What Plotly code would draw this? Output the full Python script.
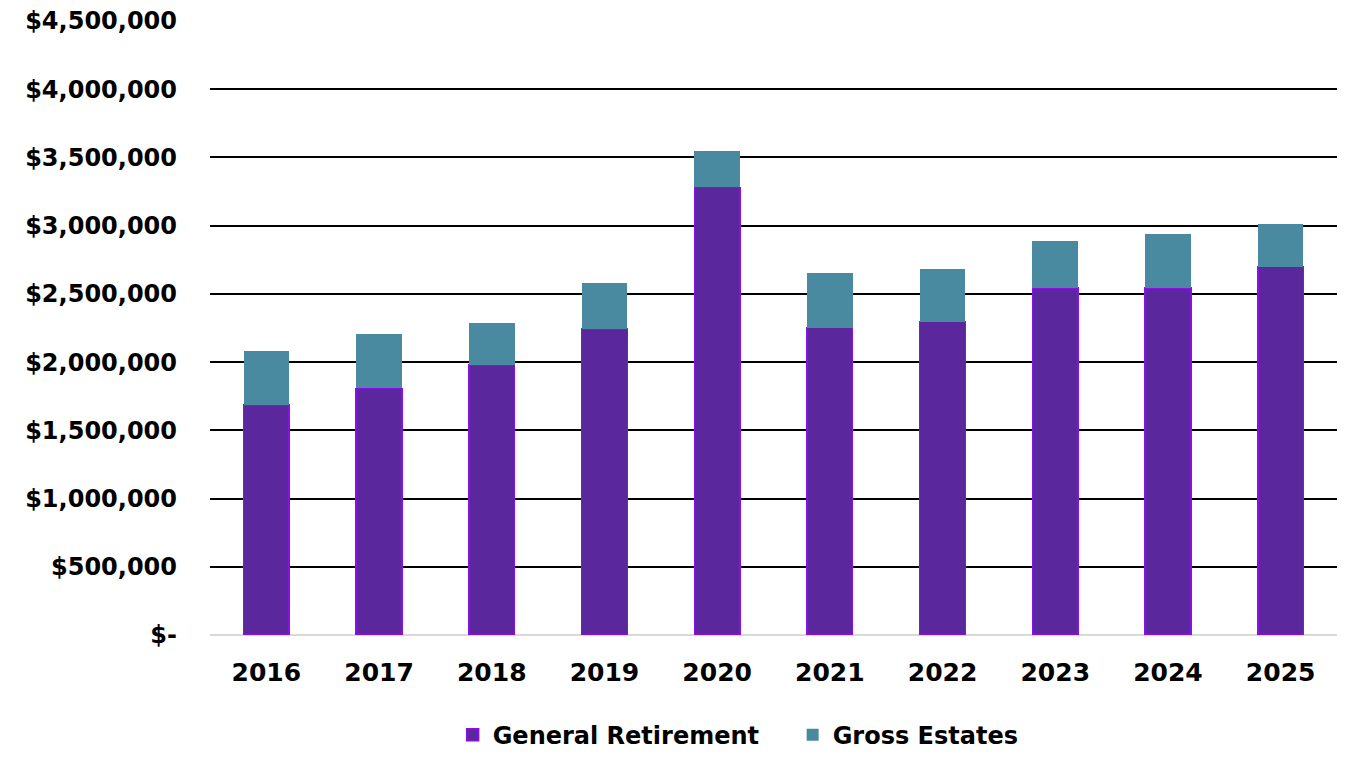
import plotly.graph_objects as go

years = ["2016", "2017", "2018", "2019", "2020", "2021", "2022", "2023", "2024", "2025"]
general_retirement = [1684000, 1808000, 1978000, 2241000, 3280000, 2253000, 2297000, 2545000, 2545000, 2699000]
gross_estates = [396000, 396000, 307000, 336000, 267000, 397000, 389000, 346000, 397000, 310000]

y_tickvals = [0, 500000, 1000000, 1500000, 2000000, 2500000, 3000000, 3500000, 4000000, 4500000]
y_ticktext = ["$-", "$500,000", "$1,000,000", "$1,500,000", "$2,000,000", "$2,500,000",
              "$3,000,000", "$3,500,000", "$4,000,000", "$4,500,000"]

FONT = "DejaVu Sans"

fig = go.Figure()
fig.add_trace(go.Bar(
    x=years, y=general_retirement, name="General Retirement",
    marker=dict(color="#5A289C", line=dict(color="#8A0FE6", width=1.5)),
))
fig.add_trace(go.Bar(
    x=years, y=gross_estates, name="Gross Estates",
    marker=dict(color="#4A8AA0", line=dict(width=0)),
))

fig.update_layout(
    barmode="stack",
    bargap=0.595,
    width=1362, height=772,
    margin=dict(l=202, r=33, t=13, b=145, autoexpand=False),
    paper_bgcolor="white", plot_bgcolor="white",
    font=dict(family=FONT, color="black"),
    showlegend=True,
    legend=dict(
        orientation="h", x=0.517, xanchor="center", y=-0.163, yanchor="middle",
        font=dict(family=FONT, size=24, color="black", weight="bold"),
        traceorder="normal", itemwidth=30, entrywidth=295,
    ),
)
fig.update_xaxes(
    type="category",
    tickfont=dict(family=FONT, size=25, color="black", weight="bold"),
    showgrid=False, showline=False, ticks="",
    ticklabelstandoff=20, automargin=False,
)
fig.update_yaxes(
    range=[0, 4500000],
    tickvals=y_tickvals, ticktext=y_ticktext,
    tickfont=dict(family=FONT, size=24, color="black", weight="bold"),
    showgrid=True, gridcolor="black", gridwidth=1.5,
    zeroline=True, zerolinecolor="#D9D9D9", zerolinewidth=2,
    showline=False, ticks="",
    ticklabelstandoff=32, automargin=False, ticklabeloverflow="allow",
)

fig.write_html("out.html")
